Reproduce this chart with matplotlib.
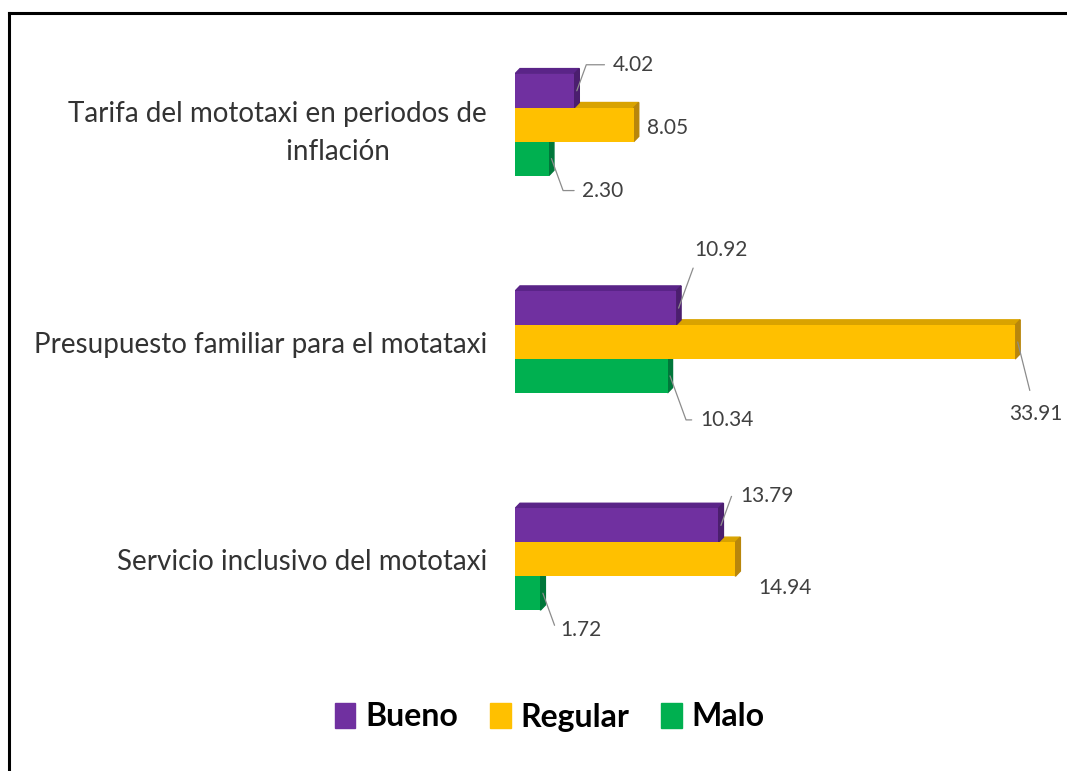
import matplotlib.pyplot as plt
from matplotlib.patches import Polygon, Patch
from matplotlib.lines import Line2D

categories = ['Tarifa del mototaxi en periodos de\n' + '\u00a0' * 17 + 'inflación',
              'Presupuesto familiar para el motataxi',
              'Servicio inclusivo del mototaxi']
series = ['Bueno', 'Regular', 'Malo']
bueno = [4.02, 10.92, 13.79]
regular = [8.05, 33.91, 14.94]
malo = [2.30, 10.34, 1.72]
colors = ['#7030A0', '#FFC000', '#00B050']
side_colors = ['#4B1E6E', '#B8860B', '#00773A']
top_colors = ['#5A2488', '#D9A300', '#009545']

# label offsets in pixels (dx, dy) from bar end, and whether a leader line is drawn
offsets = [
    [(36, 26, True), (11, -3, False), (31, -32, True)],
    [(16, 58, True), (18, -62, True), (30, -44, True)],
    [(19, 29, True), (20, -29, False), (17, -37, True)],
]

plt.rcParams['font.family'] = ['Lato', 'DejaVu Sans']

fig = plt.figure(figsize=(10.67, 7.71), dpi=100)
ax = fig.add_axes([515 / 1067, 1 - 668 / 771, 545 / 1067, 652 / 771])

h = 0.156
ddx = 0.34   # 3d depth in data x units
ddy = 0.024  # 3d depth in data y units
values = [bueno, regular, malo]

for s in range(3):
    ys = [i + (s - 1) * h for i in range(3)]
    ax.barh(ys, values[s], height=h, color=colors[s], zorder=3)
    for i in range(3):
        v = values[s][i]
        y = ys[i]
        side = Polygon([(v, y - h / 2), (v + ddx, y - h / 2 - ddy),
                        (v + ddx, y + h / 2 - ddy), (v, y + h / 2)],
                       closed=True, color=side_colors[s], zorder=2)
        ax.add_patch(side)
        top = Polygon([(0, y - h / 2), (ddx, y - h / 2 - ddy),
                       (v + ddx, y - h / 2 - ddy), (v, y - h / 2)],
                      closed=True, color=top_colors[s], zorder=1)
        ax.add_patch(top)

for s in range(3):
    for i in range(3):
        v = values[s][i]
        y = i + (s - 1) * h
        dx, dy, leader = offsets[i][s]
        ha = 'left'
        va = 'center'
        if i == 1 and s == 1:
            ha = 'center'
            va = 'top'
        kw = {}
        if leader:
            ang = 70 if dy > 0 else -70
            kw['arrowprops'] = dict(arrowstyle='-', color='#8c8c8c', lw=0.9,
                                    shrinkA=4, shrinkB=0,
                                    connectionstyle='angle,angleA=0,angleB=%d,rad=0' % ang)
            if i == 1 and s == 1:
                kw['arrowprops']['connectionstyle'] = 'arc3'
                kw['arrowprops']['shrinkA'] = 8
        ax.annotate('%.2f' % v, xy=(v + ddx / 2, y), xytext=(dx, dy),
                    textcoords='offset pixels', ha=ha, va=va,
                    fontsize=15, color='#404040', annotation_clip=False, **kw)

ax.set_xlim(0, 545 / 14.75)
ax.set_ylim(2.5, -0.5)
ax.set_yticks(range(3))
ax.set_yticklabels(categories, fontsize=20, color='#333333',
                   multialignment='center', linespacing=1.55)
ax.tick_params(axis='y', length=0, pad=20)
ax.set_xticks([])
for sp in ax.spines.values():
    sp.set_visible(False)

handles = [Patch(color=c) for c in colors]
fig.legend(handles, series, loc='center', bbox_to_anchor=(0.515, 1 - 717 / 771), ncol=3,
           frameon=False, handlelength=0.65, handleheight=0.85, handletextpad=0.3,
           columnspacing=1.0, prop={'weight': 'bold', 'size': 23})

fig.add_artist(Line2D([9 / 1067, 9 / 1067], [0, 1 - 13 / 771], color='black', lw=2.2))
fig.add_artist(Line2D([9 / 1067, 1], [1 - 13 / 771, 1 - 13 / 771], color='black', lw=2.2))

fig.savefig('out.png', dpi=100)
